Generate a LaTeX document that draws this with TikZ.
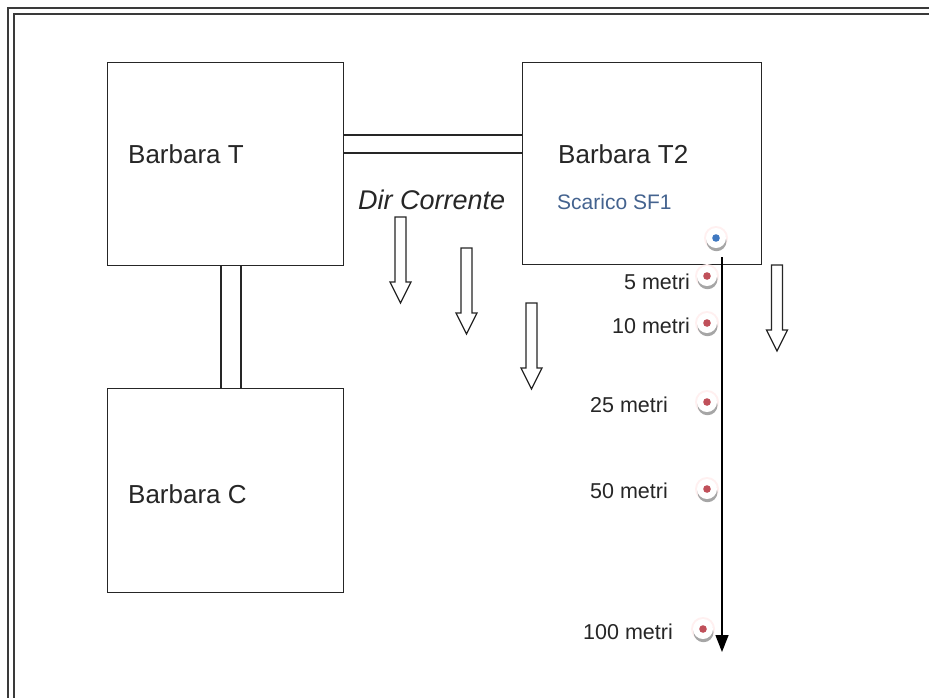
\documentclass[tikz,border=0pt]{standalone}
\usepackage{fontspec}
\setmainfont{Liberation Sans}
\usetikzlibrary{arrows.meta,calc}
\definecolor{linecol}{HTML}{262626}
\definecolor{framecol}{HTML}{3A3A3A}
\definecolor{sfblue}{HTML}{44638F}
\definecolor{dotred}{HTML}{C0505A}
\definecolor{dotblue}{HTML}{3F78C0}
\tikzset{
  box/.style={draw=linecol, line width=1.4pt, fill=white, rectangle, inner sep=0pt},
  boxlabel/.style={anchor=base west, inner sep=0pt, font=\fontsize{26}{30}\selectfont, text=black!85},
  metri/.style={anchor=base east, inner sep=0pt, font=\fontsize{21.5}{26}\selectfont, text=black!85},
  link/.style={draw=linecol, line width=1.4pt},
  arrline/.style={draw=linecol, line width=1.3pt, fill=white, line join=miter},
  flowarrow/.pic={\path[arrline] (-5.5,0) -- (-5.5,65) -- (-10.5,65) -- (0,86) -- (10.5,65) -- (5.5,65) -- (5.5,0) -- cycle;},
  probe/.pic={
    \fill[red!6] (0,0) circle (12);
    \fill[black!35] (0.5,3.2) circle (10);
    \fill[white] (0,0) circle (10);
    \fill[#1] (0,0) circle (3.8);
    \coordinate (-c) at (0,0);
  }
}
\begin{document}
\begin{tikzpicture}[x=1pt,y=-1pt]
\useasboundingbox (0,0) rectangle (929,697);
\fill[white] (0,0) rectangle (929,697);
% frame (cut off at right and bottom)
\begin{scope}
\clip (0,0) rectangle (929,697);
\draw[framecol, line width=1.8pt] (8,8) rectangle (945,715);
\draw[framecol, line width=1.8pt] (14,14) rectangle (939,709);
\end{scope}
% boxes
\node[box, minimum width=236pt, minimum height=203pt, anchor=north west] (T) at (107,62) {};
\node[box, minimum width=239pt, minimum height=202pt, anchor=north west] (T2) at (522,62) {};
\node[box, minimum width=236pt, minimum height=204pt, anchor=north west] (C) at (107,388) {};
% connectors
\draw[link] ([yshift=-73pt]T.north east) -- ([yshift=-73pt]T2.north west);
\draw[link] ([yshift=-91pt]T.north east) -- ([yshift=-91pt]T2.north west);
\draw[link] ([xshift=114pt]T.south west) -- ([xshift=114pt]C.north west);
\draw[link] ([xshift=134pt]T.south west) -- ([xshift=134pt]C.north west);
% labels
\node[boxlabel] (tT) at (128,163) {Barbara T};
\node[boxlabel] (tT2) at (558,163) {Barbara T2};
\node[boxlabel] (tC) at (128,503) {Barbara C};
\node[anchor=base west, inner sep=0pt, font=\fontsize{21}{25}\selectfont, text=sfblue] (sf) at (557,209) {Scarico SF1};
\node[anchor=base west, inner sep=0pt, font=\fontsize{27}{32}\selectfont\itshape, text=black!85] (dir) at (358,209) {Dir Corrente};
% flow arrows
\pic at (400.5,217) {flowarrow};
\pic at (466.5,248) {flowarrow};
\pic at (531.5,303) {flowarrow};
\pic at (777,265) {flowarrow};
% probes
\pic (p0) at (716,238) {probe=dotblue};
\pic (p1) at (707,276) {probe=dotred};
\pic (p2) at (707,323) {probe=dotred};
\pic (p3) at (707,402) {probe=dotred};
\pic (p4) at (707,489) {probe=dotred};
\pic (p5) at (703,629) {probe=dotred};
% transect line
\coordinate (lineTop) at (722,257);
\coordinate (lineEnd) at (722,652);
\draw[black, line width=1.4pt, -{Triangle[width=13pt,length=17pt]}] (lineTop) -- (lineEnd);
% distance labels
\node[metri] (m5) at (690,289) {5 metri};
\node[metri] (m10) at (690,333) {10 metri};
\node[metri] (m25) at (668,412) {25 metri};
\node[metri] (m50) at (668,498) {50 metri};
\node[metri] (m100) at (673,639) {100 metri};
\end{tikzpicture}
\end{document}
